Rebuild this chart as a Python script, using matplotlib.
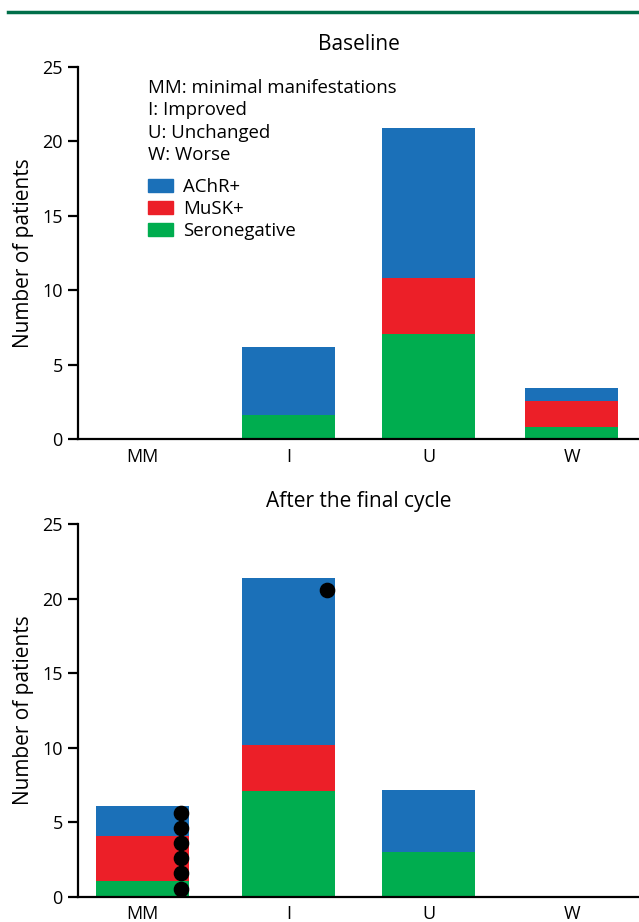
import matplotlib.pyplot as plt
import matplotlib as mpl
from matplotlib.patches import Patch
from matplotlib.lines import Line2D

mpl.rcParams["font.family"] = ["Open Sans", "DejaVu Sans"]
mpl.rcParams["font.size"] = 13

categories = ["MM", "I", "U", "W"]

# Baseline (stacked segment heights)
base_seroneg = [0, 1.6, 7.1, 0.8]
base_musk = [0, 0, 3.7, 1.75]
base_achr = [0, 4.6, 10.1, 0.9]

# After the final cycle
final_seroneg = [1.05, 7.1, 3.05, 0]
final_musk = [3.05, 3.1, 0, 0]
final_achr = [2.0, 11.2, 4.1, 0]

# black dots in the final panel
dots_mm_y = [0.53, 1.58, 2.63, 3.59, 4.6, 5.6]
dots_i_y = [20.6]

abbrev = ["MM: minimal manifestations", "I: Improved", "U: Unchanged", "W: Worse"]

C_ACHR = "#1b70b8"
C_MUSK = "#ec1f28"
C_SERO = "#00ad4f"

fig = plt.figure(figsize=(6.39, 9.22), dpi=100)
ax1 = fig.add_axes([0.122, 0.5235, 0.878, 0.404])
ax2 = fig.add_axes([0.122, 0.0271, 0.878, 0.4046])

# green rule at the top
fig.add_artist(Line2D([0.012, 1.0], [0.987, 0.987], transform=fig.transFigure,
                      color="#006f4a", lw=2.5))

x = [0, 1.02, 2.0, 3.0]
w = 0.65


def draw(ax, sero, musk, achr, title):
    b2 = [s + m for s, m in zip(sero, musk)]
    ax.bar(x, sero, width=w, color=C_SERO)
    ax.bar(x, musk, width=w, bottom=sero, color=C_MUSK)
    ax.bar(x, achr, width=w, bottom=b2, color=C_ACHR)
    ax.set_xlim(-0.45, 3.47)
    ax.set_ylim(0, 25)
    ax.set_yticks([0, 5, 10, 15, 20, 25])
    ax.set_xticks(x)
    ax.set_xticklabels(categories)
    ax.spines["top"].set_visible(False)
    ax.spines["right"].set_visible(False)
    ax.spines["left"].set_linewidth(1.6)
    ax.spines["bottom"].set_linewidth(1.6)
    ax.tick_params(axis="y", length=7, width=1.6, pad=4, labelsize=13)
    ax.tick_params(axis="x", length=0, pad=6, labelsize=13)
    ax.set_ylabel("Number of patients", fontsize=15, labelpad=6)
    ax.set_title(title, fontsize=15, pad=12)


draw(ax1, base_seroneg, base_musk, base_achr, "Baseline")
draw(ax2, final_seroneg, final_musk, final_achr, "After the final cycle")

# abbreviations + legend in the top panel
for i, line in enumerate(abbrev):
    ax1.text(0.125, 0.943 - i * 0.06, line, transform=ax1.transAxes,
             ha="left", va="center", fontsize=13.4)

handles = [Patch(color=C_ACHR), Patch(color=C_MUSK), Patch(color=C_SERO)]
ax1.legend(handles, ["AChR+", "MuSK+", "Seronegative"], loc="upper left",
           bbox_to_anchor=(0.125, 0.702), frameon=False, fontsize=13.4,
           handlelength=1.35, handleheight=0.75, labelspacing=0.22,
           handletextpad=0.55, borderpad=0, borderaxespad=0)

# dots
ax2.scatter([0 + 0.27] * len(dots_mm_y), dots_mm_y, s=105, color="black", zorder=3)
ax2.scatter([1.02 + 0.27] * len(dots_i_y), dots_i_y, s=105, color="black", zorder=3)

fig.savefig("out.png", dpi=100)
